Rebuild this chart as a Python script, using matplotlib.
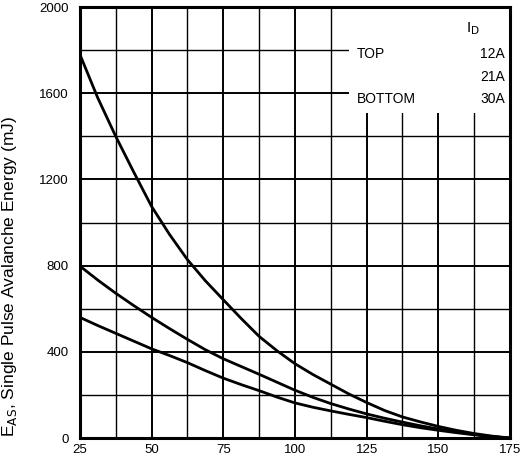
import numpy as np
import matplotlib
matplotlib.use("Agg")
import matplotlib.pyplot as plt
from matplotlib.patches import Rectangle

plt.rcParams['font.family'] = ['Liberation Sans', 'DejaVu Sans']

# starting junction temperature (deg C), read every 6.25 deg
temp = [25, 31.25, 37.5, 43.75, 50, 56.25, 62.5, 68.75, 75, 81.25, 87.5,
        93.75, 100, 106.25, 112.5, 118.75, 125, 131.25, 137.5, 143.75, 150,
        156.25, 162.5, 168.75, 175]

# avalanche energy (mJ) per drain current
eas_12a = [1780, 1578, 1400, 1235, 1075, 945, 828, 730, 642, 555, 472,
           405, 345, 295, 250, 205, 165, 128, 98, 75, 54, 36, 21, 9, 0]
eas_21a = [798, 733, 672, 615, 560, 508, 458, 410, 368, 332, 296,
           259, 222, 189, 160, 135, 112, 92, 74, 57, 42, 29, 17, 7, 0]
eas_30a = [560, 522, 486, 450, 414, 383, 350, 313, 278, 248, 220,
           190, 163, 143, 126, 110, 95, 78, 62, 48, 36, 25, 15, 6, 0]

x_ticks = [25, 50, 75, 100, 125, 150, 175]
y_ticks = [0, 400, 800, 1200, 1600, 2000]

fig = plt.figure(figsize=(5.29, 4.68), dpi=100)
ax = fig.add_axes([0.151, 0.064, 0.813, 0.921])

ax.set_xlim(25, 175)
ax.set_ylim(0, 2000)
ax.set_xticks(x_ticks)
ax.set_yticks(y_ticks)
ax.set_xticks(np.arange(25, 176, 12.5), minor=True)
ax.set_yticks(np.arange(0, 2001, 200), minor=True)
ax.tick_params(which='both', length=0, labelsize=9.5)
ax.tick_params(axis='x', pad=4)
ax.tick_params(axis='y', pad=8)

ax.grid(which='minor', color='black', lw=1.0, zorder=1)
ax.grid(which='major', color='black', lw=1.4, zorder=1)
for s in ax.spines.values():
    s.set_linewidth(2.2)

# white legend area covering the grid
ax.add_patch(Rectangle((119, 1510), 56, 490, facecolor='white',
                       edgecolor='none', zorder=2))

for y in (eas_12a, eas_21a, eas_30a):
    ax.plot(temp, y, color='black', lw=2.0, zorder=3,
            solid_joinstyle='round')

ax.text(0.930, 0.949, r'I$_{\rm D}$', transform=ax.transAxes, fontsize=11,
        ha='right', va='center', zorder=4)
ax.text(0.643, 0.891, 'TOP', transform=ax.transAxes, fontsize=10,
        ha='left', va='center', zorder=4)
ax.text(0.643, 0.787, 'BOTTOM', transform=ax.transAxes, fontsize=10,
        ha='left', va='center', zorder=4)
for yy, lab in zip((0.891, 0.838, 0.787), ('12A', '21A', '30A')):
    ax.text(0.988, yy, lab, transform=ax.transAxes, fontsize=10,
            ha='right', va='center', zorder=4)

ax.set_ylabel(r'E$_{\rm AS}$, Single Pulse Avalanche Energy (mJ)', fontsize=12.5)
ax.yaxis.set_label_coords(-0.142, 0.374)

fig.savefig('out.png', dpi=100)
